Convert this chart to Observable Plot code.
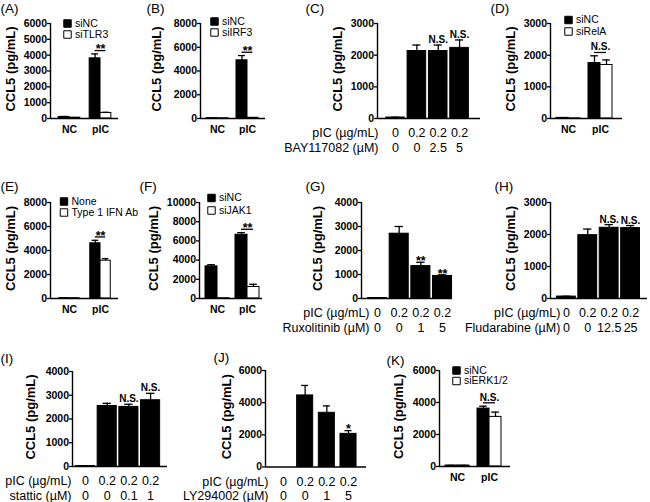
<!DOCTYPE html>
<html><head><meta charset="utf-8">
<script src="https://cdn.jsdelivr.net/npm/d3@7"></script>
<script src="https://cdn.jsdelivr.net/npm/@observablehq/plot@0.6"></script>
<style>
html,body{margin:0;padding:0;background:#fff;}
#fig{position:relative;width:650px;height:502px;overflow:hidden;background:#fff;}
#fig svg{position:absolute;left:0;top:0;background:none;overflow:visible;}
</style></head><body><div id="fig"></div>
<script>
const YTITLE = "CCL5 (pg/mL)";
const PIC_LABEL = "pIC (\u00B5g/mL)";

// (A)
const aGroups = ["NC", "pIC"];
const aSeries = ["siNC", "siTLR3"];
const aSiNC = [100, 3800];
const aSiNCErr = [25, 280];
const aSiTLR3 = [50, 350];
const aSiTLR3Err = [10, 40];
const aSig = ["", "**"];
const aTicks = [0, 1000, 2000, 3000, 4000, 5000, 6000];

// (B)
const bGroups = ["NC", "pIC"];
const bSeries = ["siNC", "siIRF3"];
const bSiNC = [30, 4900];
const bSiNCErr = [0, 400];
const bSiIRF3 = [20, 60];
const bSiIRF3Err = [0, 0];
const bSig = ["", "**"];
const bTicks = [0, 2000, 4000, 6000, 8000];

// (C)
const cPic = ["0", "0.2", "0.2", "0.2"];
const cDrugLabel = "BAY117082 (\u00B5M)";
const cDrug = ["0", "0", "2.5", "5"];
const cValues = [30, 2130, 2130, 2230];
const cErrors = [10, 190, 190, 250];
const cSig = ["", "", "N.S.", "N.S."];
const cTicks = [0, 1000, 2000, 3000];

// (D)
const dGroups = ["NC", "pIC"];
const dSeries = ["siNC", "siRelA"];
const dSiNC = [20, 1750];
const dSiNCErr = [5, 230];
const dSiRelA = [5, 1690];
const dSiRelAErr = [0, 160];
const dSig = ["", "N.S."];
const dTicks = [0, 1000, 2000, 3000];

// (E)
const eGroups = ["NC", "pIC"];
const eSeries = ["None", "Type 1 IFN Ab"];
const eNone = [30, 4600];
const eNoneErr = [5, 250];
const eIFNAb = [20, 3150];
const eIFNAbErr = [5, 170];
const eSig = ["", "**"];
const eTicks = [0, 2000, 4000, 6000, 8000];

// (F)
const fGroups = ["NC", "pIC"];
const fSeries = ["siNC", "siJAK1"];
const fSiNC = [3350, 6640];
const fSiNCErr = [170, 220];
const fSiJAK1 = [30, 1200];
const fSiJAK1Err = [0, 280];
const fSig = ["", "**"];
const fTicks = [0, 2000, 4000, 6000, 8000, 10000];

// (G)
const gPic = ["0", "0.2", "0.2", "0.2"];
const gDrugLabel = "Ruxolitinib (\u00B5M)";
const gDrug = ["0", "0", "1", "5"];
const gValues = [20, 2700, 1350, 940];
const gErrors = [5, 300, 160, 45];
const gSig = ["", "", "**", "**"];
const gTicks = [0, 1000, 2000, 3000, 4000];

// (H)
const hPic = ["0", "0.2", "0.2", "0.2"];
const hDrugLabel = "Fludarabine (\u00B5M)";
const hDrug = ["0", "0", "12.5", "25"];
const hValues = [60, 1980, 2210, 2200];
const hErrors = [10, 190, 100, 80];
const hSig = ["", "", "N.S.", "N.S."];
const hTicks = [0, 1000, 2000, 3000];

// (I)
const iPic = ["0", "0.2", "0.2", "0.2"];
const iDrugLabel = "stattic (\u00B5M)";
const iDrug = ["0", "0", "0.1", "1"];
const iValues = [20, 2550, 2510, 2790];
const iErrors = [5, 110, 110, 290];
const iSig = ["", "", "N.S.", "N.S."];
const iTicks = [0, 1000, 2000, 3000, 4000];

// (J)
const jPic = ["0", "0.2", "0.2", "0.2"];
const jDrugLabel = "LY294002 (\u00B5M)";
const jDrug = ["0", "0", "1", "5"];
const jValues = [0, 4450, 3370, 2060];
const jErrors = [0, 620, 430, 200];
const jSig = ["", "", "", "*"];
const jTicks = [0, 2000, 4000, 6000];

// (K)
const kGroups = ["NC", "pIC"];
const kSeries = ["siNC", "siERK1/2"];
const kSiNC = [60, 3620];
const kSiNCErr = [10, 150];
const kSiERK = [60, 3100];
const kSiERKErr = [10, 300];
const kSig = ["", "N.S."];
const kTicks = [0, 2000, 4000, 6000];

// ---- layout (page pixel geometry, separate from data) ----
const layout = {
  A: {tag: "(A)", tagX: 0, tagY: 8, left: 50, right: 118, top: 23, bottom: 118, xdomain: [-0.613, 1.58], barW: 0.35, titleDx: -40, legX: 17, legY: 0, legStep: 11},
  B: {tag: "(B)", tagX: 146, tagY: 8, left: 200, right: 265, top: 23, bottom: 118, xdomain: [-0.567, 1.6], barW: 0.367, titleDx: -44, legX: 14, legY: -2, legStep: 11},
  C: {tag: "(C)", tagX: 305, tagY: 8, left: 377, right: 480, top: 23, bottom: 118, xdomain: [-0.844, 3.98], barW: 0.87, titleDx: -40, rowDx: -17},
  D: {tag: "(D)", tagX: 490, tagY: 8, left: 550, right: 622, top: 23, bottom: 118, xdomain: [-0.5625, 1.6875], barW: 0.375, titleDx: -40, legX: 18, legY: -3.5, legStep: 11.5},
  E: {tag: "(E)", tagX: 0, tagY: 186, left: 50, right: 118, top: 202, bottom: 298, xdomain: [-0.613, 1.58], barW: 0.33, titleDx: -40, legX: 13.5, legY: -1, legStep: 11},
  F: {tag: "(F)", tagX: 139, tagY: 186, left: 199, right: 262, top: 202, bottom: 298, xdomain: [-0.6, 1.5], barW: 0.4, titleDx: -46, legX: 12, legY: -4.5, legStep: 12.5},
  G: {tag: "(G)", tagX: 305, tagY: 186, left: 361, right: 452, top: 202, bottom: 298, xdomain: [-0.74, 3.46], barW: 0.88, titleDx: -44, rowDx: -8},
  H: {tag: "(H)", tagX: 494, tagY: 186, left: 550, right: 647, top: 202, bottom: 298, xdomain: [-0.74, 3.79], barW: 0.88, titleDx: -40, rowDx: -6},
  I: {tag: "(I)", tagX: 0, tagY: 358, left: 72, right: 167, top: 371, bottom: 466, xdomain: [-0.6, 3.78], barW: 0.88, titleDx: -42, rowDx: -14},
  J: {tag: "(J)", tagX: 213, tagY: 357, left: 265, right: 366, top: 370, bottom: 466.5, xdomain: [-0.83, 3.83], barW: 0.74, titleDx: -39, rowDx: -15},
  K: {tag: "(K)", tagX: 386, tagY: 360, left: 439, right: 510, top: 370, bottom: 466, xdomain: [-0.5625, 1.656], barW: 0.375, titleDx: -41, legX: 17, legY: 0, legStep: 10.5}
};

const FONT = "'Liberation Sans', Arial, Helvetica, sans-serif";
const W = 650, H = 502;
const fig = document.getElementById("fig");

function commonMarks(L, ticks, rows, capHalf) {
  const withErr = rows.filter(d => d.err > 0);
  return [
    Plot.rect(rows, {x1: d => d.pos - L.barW / 2, x2: d => d.pos + L.barW / 2, y1: 0, y2: "value", fill: "fill", stroke: "black", strokeWidth: 1}),
    Plot.ruleX(withErr, {x: "pos", y1: "value", y2: d => d.value + d.err, stroke: "black", strokeWidth: 1.3}),
    Plot.ruleY(withErr, {y: d => d.value + d.err, x1: d => d.pos - capHalf, x2: d => d.pos + capHalf, stroke: "black", strokeWidth: 1.3}),
    Plot.ruleY([0], {stroke: "black", strokeWidth: 1.4}),
    Plot.ruleX([L.xdomain[0]], {stroke: "black", strokeWidth: 1.4}),
    Plot.axisY({ticks: ticks, tickSize: 3, tickPadding: 0.5, tickFormat: d => String(d), fontSize: 10.5, fontWeight: "bold", strokeWidth: 1.3, label: null}),
    Plot.text([YTITLE], {frameAnchor: "left", rotate: -90, dx: L.titleDx, dy: -2, fontSize: 13, fontWeight: "bold", textAnchor: "middle", lineAnchor: "middle"}),
    Plot.text([L.tag], {frameAnchor: "top-left", dx: L.tagX - L.left, dy: L.tagY - L.top, textAnchor: "start", lineAnchor: "middle", fontSize: 13.5})
  ];
}

function render(L, ticks, marks) {
  const svg = Plot.plot({
    width: W, height: H,
    marginLeft: L.left, marginRight: W - L.right, marginTop: L.top, marginBottom: H - L.bottom,
    x: {type: "linear", domain: L.xdomain, axis: null},
    y: {domain: [0, ticks[ticks.length - 1]]},
    color: {type: "identity"},
    style: {fontFamily: FONT, background: "none", overflow: "visible", color: "black"},
    marks
  });
  svg.style.position = "absolute";
  svg.style.left = "0px";
  svg.style.top = "0px";
  svg.style.background = "none";
  svg.style.overflow = "visible";
  fig.appendChild(svg);
  return svg;
}

function sigMarks(items, yAcc) {
  return [
    Plot.text(items.filter(d => d.text.includes("*")), {x: "pos", y: yAcc, text: "text", lineAnchor: "bottom", dy: 2.8, fontSize: 12.5, fontWeight: "bold"}),
    Plot.text(items.filter(d => d.text === "N.S."), {x: "pos", y: yAcc, text: "text", lineAnchor: "bottom", dy: -2, fontSize: 10, fontWeight: "bold"})
  ];
}

function groupedPanel(L, groups, series, vals, errs, sig, ticks) {
  const fills = ["black", "white"];
  const ymax = ticks[ticks.length - 1];
  const rows = [];
  series.forEach((s, si) => groups.forEach((g, gi) => rows.push({gi, pos: gi + (si - 0.5) * L.barW, value: vals[si][gi], err: errs[si][gi], fill: fills[si]})));
  const sigRows = groups.map((g, gi) => ({
    pos: gi, text: sig[gi],
    level: d3.max(rows.filter(r => r.gi === gi), r => r.value + r.err) + ymax * 0.035
  })).filter(d => d.text);
  const marks = [
    ...commonMarks(L, ticks, rows, L.barW * 0.32),
    Plot.ruleY(sigRows, {y: "level", x1: d => d.pos - L.barW / 2, x2: d => d.pos + L.barW / 2, stroke: "black", strokeWidth: 1.3}),
    ...sigMarks(sigRows, "level"),
    Plot.text(groups, {x: (d, i) => i, text: d => d, frameAnchor: "bottom", lineAnchor: "top", dy: 7.5, fontSize: 10.5, fontWeight: "bold"})
  ];
  series.forEach((s, si) => {
    marks.push(Plot.dot([s], {frameAnchor: "top-left", dx: L.legX, dy: L.legY + si * L.legStep, symbol: "square", r: 4.2, fill: fills[si], stroke: "black", strokeWidth: 1}));
    marks.push(Plot.text([s], {frameAnchor: "top-left", dx: L.legX + 7.5, dy: L.legY + si * L.legStep, text: d => d, textAnchor: "start", lineAnchor: "middle", fontSize: 10.5}));
  });
  return render(L, ticks, marks);
}

function treatmentPanel(L, pic, drugLabel, drug, values, errors, sig, ticks) {
  const rows = values.map((v, i) => ({pos: i, value: v, err: errors[i], fill: "black", text: sig[i]}));
  const marks = [
    ...commonMarks(L, ticks, rows, L.barW * 0.22),
    ...sigMarks(rows.filter(d => d.text), d => d.value + d.err),
    Plot.text(values, {x: (d, i) => i, text: (d, i) => pic[i] + "\n" + drug[i], frameAnchor: "bottom", lineAnchor: "top", dy: 8.5, fontSize: 12.5, lineHeight: 1.16}),
    Plot.text([PIC_LABEL + "\n" + drugLabel], {x: 0, frameAnchor: "bottom", textAnchor: "end", lineAnchor: "top", dx: L.rowDx, dy: 8.5, fontSize: 12.5, lineHeight: 1.16})
  ];
  return render(L, ticks, marks);
}

groupedPanel(layout.A, aGroups, aSeries, [aSiNC, aSiTLR3], [aSiNCErr, aSiTLR3Err], aSig, aTicks);
groupedPanel(layout.B, bGroups, bSeries, [bSiNC, bSiIRF3], [bSiNCErr, bSiIRF3Err], bSig, bTicks);
treatmentPanel(layout.C, cPic, cDrugLabel, cDrug, cValues, cErrors, cSig, cTicks);
groupedPanel(layout.D, dGroups, dSeries, [dSiNC, dSiRelA], [dSiNCErr, dSiRelAErr], dSig, dTicks);
groupedPanel(layout.E, eGroups, eSeries, [eNone, eIFNAb], [eNoneErr, eIFNAbErr], eSig, eTicks);
groupedPanel(layout.F, fGroups, fSeries, [fSiNC, fSiJAK1], [fSiNCErr, fSiJAK1Err], fSig, fTicks);
treatmentPanel(layout.G, gPic, gDrugLabel, gDrug, gValues, gErrors, gSig, gTicks);
treatmentPanel(layout.H, hPic, hDrugLabel, hDrug, hValues, hErrors, hSig, hTicks);
treatmentPanel(layout.I, iPic, iDrugLabel, iDrug, iValues, iErrors, iSig, iTicks);
treatmentPanel(layout.J, jPic, jDrugLabel, jDrug, jValues, jErrors, jSig, jTicks);
groupedPanel(layout.K, kGroups, kSeries, [kSiNC, kSiERK], [kSiNCErr, kSiERKErr], kSig, kTicks);
</script></body></html>
